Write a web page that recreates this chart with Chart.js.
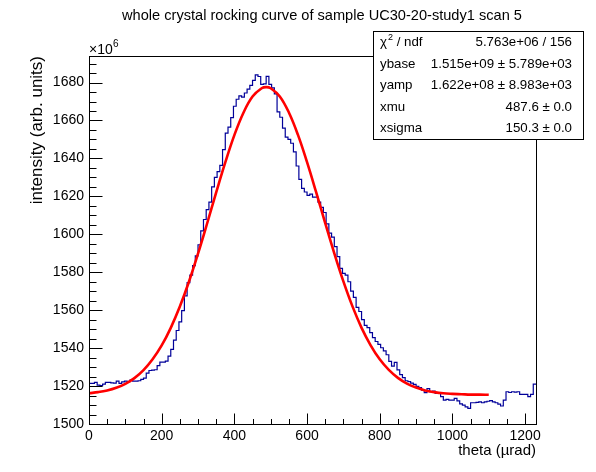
<!DOCTYPE html>
<html>
<head>
<meta charset="utf-8">
<script src="https://cdn.jsdelivr.net/npm/chart.js@4.4.1/dist/chart.umd.min.js"></script>
<style>
  html, body { margin:0; padding:0; background:#fff; }
  canvas { display:block; }
</style>
</head>
<body>
<canvas id="chart" width="596" height="472"></canvas>
<script>
// histogram: bin layout and contents (x 1e6 counts)
const binLow = 0;
const binWidth = 7.5;
const histValues = [
  1521.4, 1521.4, 1521.9, 1520.5, 1520.2, 1521.0, 1521.9, 1521.9, 1521.7, 1521.5,
  1522.6, 1521.4, 1522.2, 1522.6, 1522.3, 1523.2, 1522.6, 1522.6, 1522.8, 1523.5,
  1524.2, 1526.8, 1528.2, 1528.4, 1528.6, 1530.8, 1532.6, 1532.6, 1533.1, 1535.8,
  1539.3, 1544.2, 1549.3, 1553.8, 1559.8, 1567.5, 1574.5, 1578.5, 1583.5, 1588.6,
  1594.5, 1601.8, 1607.8, 1613.0, 1617.0, 1625.0, 1630.0, 1633.0, 1636.3, 1644.6,
  1653.3, 1656.5, 1661.5, 1667.5, 1671.2, 1673.0, 1672.3, 1674.5, 1676.5, 1678.5,
  1681.2, 1684.0, 1683.2, 1679.0, 1679.3, 1683.3, 1679.0, 1677.2, 1674.0, 1664.5,
  1661.7, 1656.0, 1651.2, 1650.0, 1648.0, 1643.5, 1636.0, 1629.0, 1624.2, 1622.3,
  1620.5, 1621.2, 1619.6, 1619.6, 1617.0, 1614.2, 1611.5, 1605.5, 1600.6, 1598.5,
  1593.5, 1588.2, 1582.0, 1579.4, 1578.5, 1575.0, 1570.0, 1566.8, 1561.5, 1559.3,
  1555.0, 1552.0, 1550.8, 1548.2, 1545.5, 1543.5, 1542.0, 1540.2, 1538.5, 1536.5,
  1533.0, 1530.5, 1532.5, 1528.5, 1526.0, 1524.5, 1522.8, 1522.3, 1521.6, 1520.9,
  1519.8, 1519.2, 1517.8, 1516.5, 1518.6, 1517.0, 1517.4, 1516.1, 1516.1, 1514.4,
  1512.6, 1513.0, 1512.6, 1512.6, 1513.5, 1512.2, 1510.6, 1510.0, 1509.0, 1508.2,
  1511.2, 1511.2, 1511.4, 1511.7, 1511.2, 1511.7, 1512.0, 1512.3, 1511.7, 1511.2,
  1510.5, 1509.5, 1512.6, 1517.0, 1516.6, 1517.0, 1516.8, 1517.0, 1515.6, 1515.6,
  1515.6, 1514.4, 1515.6, 1521.0
];

// fitted gaussian curve, sampled along theta
const fitTheta = [0, 25, 50, 75, 100, 125, 150, 175, 200, 225, 250, 275, 300, 325, 350,
  375, 400, 425, 450, 475, 487.5, 500, 525, 550, 575, 600, 625, 650, 675, 700, 725,
  750, 775, 800, 825, 850, 875, 900, 925, 950, 975, 1000, 1025, 1050, 1075, 1100];
const fitValues = [1516.2, 1516.8, 1517.7, 1519.1, 1521.2, 1524.2, 1528.4, 1534.1, 1541.4,
  1550.7, 1561.9, 1575.0, 1589.8, 1605.7, 1622.1, 1637.9, 1652.3, 1664.1, 1672.6, 1677.0,
  1677.6, 1677.0, 1672.7, 1664.2, 1652.4, 1638.0, 1622.2, 1605.9, 1590.0, 1575.2, 1562.0,
  1550.7, 1541.5, 1534.1, 1528.5, 1524.3, 1521.3, 1519.2, 1517.7, 1516.8, 1516.2, 1515.9,
  1515.7, 1515.5, 1515.5, 1515.4];

const xTicks = [0, 200, 400, 600, 800, 1000, 1200];
const yTicks = [1500, 1520, 1540, 1560, 1580, 1600, 1620, 1640, 1660, 1680];

const statLabels = ["χ", "ybase", "yamp", "xmu", "xsigma"];
const statValues = ["5.763e+06 / 156", "1.515e+09 ± 5.789e+03", "1.622e+08 ± 8.983e+03",
  "487.6 ± 0.0", "150.3 ± 0.0"];

const TITLE = "whole crystal rocking curve of sample UC30-20-study1 scan 5";
const XTITLE = "theta (µrad)";
const YTITLE = "intensity (arb. units)";

const FONT = '"Liberation Sans", Arial, Helvetica, sans-serif';

function $(id){ return document.getElementById(id); }

function histPoints(){
  const pts = histValues.map((v, i) => ({ x: binLow + i*binWidth, y: v }));
  // closing edge of the last bin
  pts.push({ x: binLow + histValues.length*binWidth, y: histValues[histValues.length-1] });
  return pts;
}

const rootFrame = {
  id: "rootFrame",
  afterDatasetsDraw(chart){
    const ctx = chart.ctx, a = chart.chartArea;
    const xs = chart.scales.x, ys = chart.scales.y;
    const L = Math.round(a.left) + 0.5, R = Math.round(a.right) + 0.5;
    const T = Math.round(a.top) + 0.5, B = Math.round(a.bottom) + 0.5;
    ctx.save();
    ctx.strokeStyle = "#000";
    ctx.lineWidth = 1;
    ctx.strokeRect(L, T, R - L, B - T);

    // y ticks (pointing inward), minor every 5
    ctx.beginPath();
    for(let v = 1500; v <= ys.max; v += 5){
      const y = Math.round(ys.getPixelForValue(v)) + 0.5;
      const len = (v % 20 === 0) ? 13 : 7;
      ctx.moveTo(L, y); ctx.lineTo(L + len, y);
    }
    // x ticks, minor every 50
    for(let v = 0; v <= xs.max; v += 50){
      const x = Math.round(xs.getPixelForValue(v)) + 0.5;
      const len = (v % 200 === 0) ? 11 : 5.5;
      ctx.moveTo(x, B); ctx.lineTo(x, B - len);
    }
    ctx.stroke();

    ctx.fillStyle = "#000";
    ctx.font = "14px " + FONT;
    ctx.textAlign = "right"; ctx.textBaseline = "middle";
    yTicks.forEach(v => ctx.fillText(String(v), a.left - 5, ys.getPixelForValue(v)));
    ctx.textAlign = "center"; ctx.textBaseline = "alphabetic";
    xTicks.forEach(v => ctx.fillText(String(v), xs.getPixelForValue(v), 440));

    // exponent
    ctx.textAlign = "left";
    ctx.fillText("×10", a.left, 54);
    ctx.font = "10px " + FONT;
    ctx.fillText("6", a.left + 24, 47);

    // axis titles
    ctx.font = "15px " + FONT;
    ctx.textAlign = "right";
    ctx.fillText(XTITLE, a.right, 455);
    ctx.save();
    ctx.font = "17px " + FONT;
    ctx.translate(42, 56);
    ctx.rotate(-Math.PI/2);
    ctx.fillText(YTITLE, 0, 0);
    ctx.restore();

    // title
    ctx.font = "14.6px " + FONT;
    ctx.textAlign = "center";
    ctx.fillText(TITLE, 322, 20);

    // stat box
    const bx = 373.5, by = 31.5, bw = 210, bh = 108;
    ctx.fillStyle = "#fff";
    ctx.fillRect(bx, by, bw, bh);
    ctx.strokeRect(bx, by, bw, bh);
    ctx.fillStyle = "#000";
    ctx.textBaseline = "middle";
    const rowH = bh / statLabels.length;
    statLabels.forEach((lab, k) => {
      const y = by + rowH*(k + 0.5);
      ctx.font = "13.3px " + FONT;
      ctx.textAlign = "left";
      ctx.fillText(lab, 380, y);
      if(k === 0){
        const w = ctx.measureText(lab).width;
        ctx.font = "9px " + FONT;
        ctx.fillText("2", 380 + w + 1, y - 5);
        ctx.font = "13.3px " + FONT;
        ctx.fillText(" / ndf", 380 + w + 6, y);
      }
      ctx.textAlign = "right";
      ctx.fillText(statValues[k], 572, y);
    });
    ctx.restore();
  }
};

new Chart($("chart").getContext("2d"), {
  type: "line",
  data: {
    datasets: [
      {
        label: "fit",
        data: fitTheta.map((t, i) => ({ x: t, y: fitValues[i] })),
        borderColor: "#ff0000",
        borderWidth: 2.6,
        pointRadius: 0,
        tension: 0.4,
        fill: false,
        order: 0
      },
      {
        label: "hist",
        data: histPoints(),
        borderColor: "#000099",
        borderWidth: 1.2,
        pointRadius: 0,
        stepped: true,
        fill: false,
        order: 1
      }
    ]
  },
  options: {
    responsive: false,
    animation: false,
    layout: { padding: { left: 89, right: 60, top: 56, bottom: 48 } },
    plugins: { legend: { display: false }, tooltip: { enabled: false } },
    scales: {
      x: { type: "linear", min: 0, max: 1230, display: false },
      y: { type: "linear", min: 1500, max: 1694, display: false }
    }
  },
  plugins: [rootFrame]
});
</script>
</body>
</html>
